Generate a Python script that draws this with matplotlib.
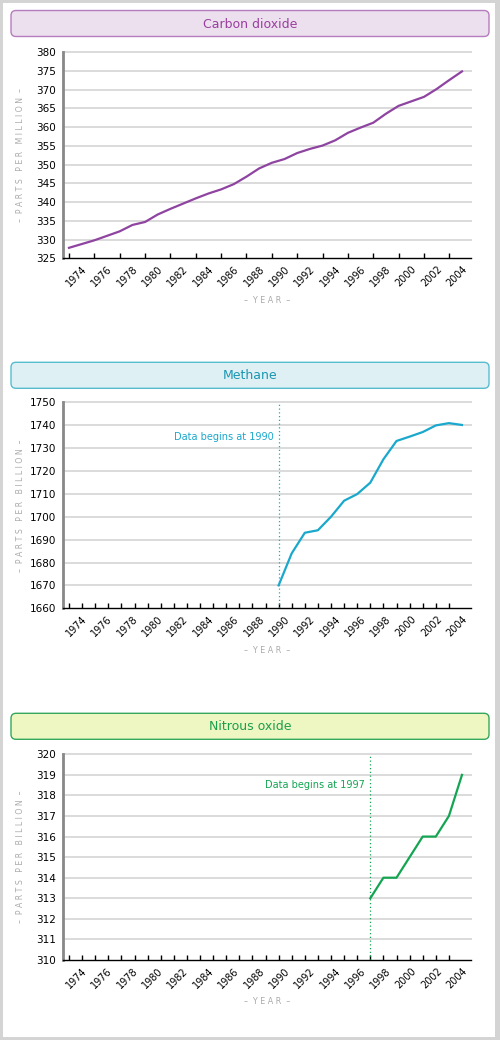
import numpy as np
import matplotlib
matplotlib.use('Agg')
import matplotlib.pyplot as plt
from matplotlib.patches import FancyBboxPatch, Rectangle

# =============================================================================
# Data
# =============================================================================
co2_years = list(range(1973, 2005))
co2_ppm = [327.8, 328.8, 329.8, 331.0, 332.2, 333.9, 334.7, 336.7, 338.2, 339.6,
           341.0, 342.3, 343.4, 344.8, 346.8, 349.0, 350.5, 351.5, 353.1, 354.2,
           355.1, 356.5, 358.5, 359.9, 361.2, 363.6, 365.7, 366.9, 368.1, 370.2,
           372.6, 374.9]

ch4_years = list(range(1990, 2005))
ch4_ppb = [1670.0, 1684.0, 1693.0, 1694.1, 1700.0, 1707.0, 1709.9, 1714.9,
           1725.1, 1733.1, 1735.0, 1737.0, 1739.9, 1740.9, 1740.1]

n2o_years = list(range(1997, 2005))
n2o_ppb = [313.0, 314.0, 314.0, 315.0, 316.0, 316.0, 317.0, 319.0]

label_years = list(range(1974, 2005, 2))

co2_yticks = list(range(325, 381, 5))
ch4_yticks = list(range(1660, 1751, 10))
n2o_yticks = list(range(310, 321, 1))

# =============================================================================
# Layout (pixels)
# =============================================================================
W, H = 500, 1040
fig = plt.figure(figsize=(W / 100, H / 100), dpi=100)
fig.patch.set_facecolor('#d4d4d4')

bg = fig.add_axes([0, 0, 1, 1])
bg.set_xlim(0, W)
bg.set_ylim(H, 0)
bg.axis('off')
bg.add_patch(Rectangle((3, 3), 492, 1034, facecolor='white', edgecolor='none'))

AX_L, AX_R = 63, 471
TICK0, TICK1 = 69, 462


def add_panel(title, top, bottom, box_top, years, vals, first, yticks, ylabel,
              line_c, text_c, fill_c, edge_c, begin=None):
    # title box
    bg.add_patch(FancyBboxPatch((11, box_top), 478, 26,
                                boxstyle='round,pad=0,rounding_size=5',
                                facecolor=fill_c, edgecolor=edge_c, lw=1))
    bg.text(250, box_top + 13.5, title, ha='center', va='center',
            fontsize=9, color=text_c)

    ax = fig.add_axes([AX_L / W, 1 - bottom / H, (AX_R - AX_L) / W,
                       (bottom - top) / H])
    last = 2004
    scale = (TICK1 - TICK0) / (last - first)
    ax.set_xlim(first - (TICK0 - AX_L) / scale, last + (AX_R - TICK1) / scale)
    ax.set_ylim(yticks[0], yticks[-1])

    for v in yticks[1:]:
        ax.axhline(v, color='#dadada', lw=1.4, zorder=0, clip_on=False)

    ax.plot(years, vals, color=line_c, lw=1.6, zorder=3)

    if begin is not None:
        ax.axvline(begin, color=line_c, lw=0.9, ls=(0, (1, 2)), zorder=2,
                   clip_on=False)
        ax.text(begin - 5 / scale, yticks[-2] - (yticks[1] - yticks[0]) * 0.5,
                'Data begins at %d' % begin, ha='right', va='center',
                fontsize=7, color=line_c)

    for s in ['top', 'right']:
        ax.spines[s].set_visible(False)
    ax.spines['left'].set_color('#888888')
    ax.spines['left'].set_linewidth(2)
    ax.spines['bottom'].set_color('black')
    ax.spines['bottom'].set_linewidth(1)

    # tick marks every year, labels spaced on a 1973-2004 grid
    ax.set_xticks(range(first, last + 1), minor=True)
    ax.tick_params(axis='x', which='minor', direction='in', length=3.5,
                   width=1, color='black')
    lab_pos = [first + (y - 1973) * (last - first) / (2004 - 1973)
               for y in label_years]
    ax.set_xticks(lab_pos)
    ax.set_xticklabels([str(y) for y in label_years], rotation=45,
                       ha='right', rotation_mode='anchor', fontsize=7)
    ax.tick_params(axis='x', which='major', length=0, pad=4)

    ax.set_yticks(yticks)
    ax.set_yticklabels([str(v) for v in yticks], fontsize=7.5)
    ax.tick_params(axis='y', length=0, pad=5)

    bg.text(21, (top + bottom) / 2, ylabel, rotation=90, ha='center',
            va='center', fontsize=5.6, color='#aaaaaa')
    bg.text((AX_L + AX_R) / 2, bottom + 42, '–  Y E A R  –', ha='center',
            va='center', fontsize=5.8, color='#aaaaaa')
    return ax


add_panel('Carbon dioxide', 52.3, 258.3, 10.5, co2_years, co2_ppm, 1973,
          co2_yticks, '–  P A R T S   P E R   M I L L I O N  –',
          '#8e44a0', '#9a3ea0', '#ecdfee', '#b57dbd')
add_panel('Methane', 402.3, 608.3, 362.3, ch4_years, ch4_ppb, 1974,
          ch4_yticks, '–  P A R T S   P E R   B I L L I O N  –',
          '#1aa8cc', '#1a96b2', '#dff0f4', '#58bccf', begin=1990)
add_panel('Nitrous oxide', 754.3, 960, 713.3, n2o_years, n2o_ppb, 1974,
          n2o_yticks, '–  P A R T S   P E R   B I L L I O N  –',
          '#14a552', '#1a9f4e', '#eef6c2', '#35a85c', begin=1997)

fig.savefig('out.png', dpi=100, facecolor=fig.get_facecolor())
